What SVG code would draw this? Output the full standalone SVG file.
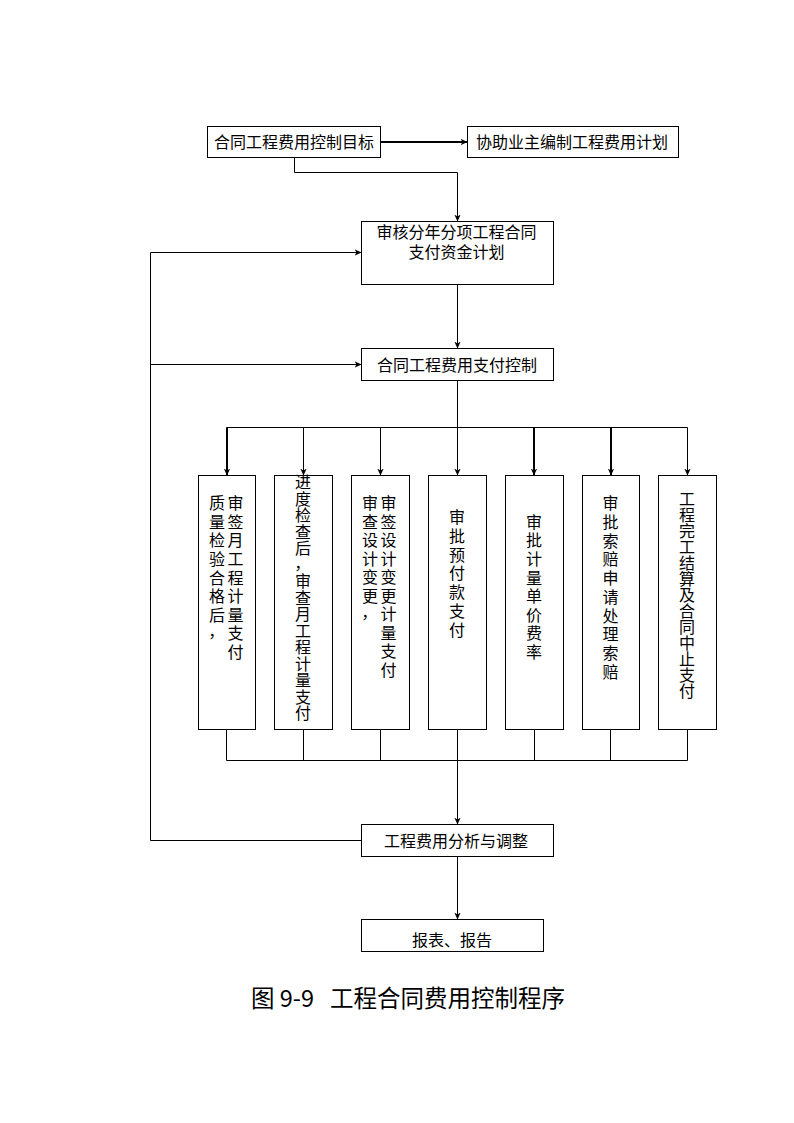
<svg xmlns="http://www.w3.org/2000/svg" width="794" height="1123" viewBox="0 0 794 1123">
<style>
.box{fill:#fff;stroke:#000;stroke-width:1}
.t{font-family:"Noto Sans CJK SC","Noto Sans CJK JP",sans-serif;font-size:16px;fill:#000;text-anchor:middle}
.v{font-family:"Noto Sans CJK SC","Noto Sans CJK JP",sans-serif;font-size:16px;fill:#000;writing-mode:vertical-rl;text-orientation:upright}
.cap{font-family:"Noto Sans CJK SC","Noto Sans CJK JP",sans-serif;font-size:23.5px;fill:#000}
.c{fill:none;stroke:#000;stroke-width:1}
.a{marker-end:url(#ah)}
.k{stroke-width:2}
</style>
<defs>
<marker id="ah" markerUnits="userSpaceOnUse" markerWidth="8" markerHeight="8" viewBox="0 0 8 8" refX="7" refY="4" orient="auto">
<path d="M0,0.8 L7,4 L0,7.2 L2,4 z" fill="#000"/>
</marker>
</defs>
<rect width="794" height="1123" fill="#fff"/>

<g id="connectors">
<path class="c a k" d="M380.5,142 H467.5"/>
<path class="c a" d="M294.5,157.5 V172.5 H457.5 V221.5"/>
<path class="c a" d="M457.5,284.5 V348.5"/>
<path class="c" d="M457.5,380.5 V427.5 M226.5,427.5 H687.5"/>
<path class="c a k" d="M227,427.5 V475.5"/>
<path class="c a" d="M303.5,427.5 V475.5"/>
<path class="c a" d="M380.5,427.5 V475.5"/>
<path class="c a" d="M457.5,427.5 V475.5"/>
<path class="c a k" d="M534,427.5 V475.5"/>
<path class="c a k" d="M611,427.5 V475.5"/>
<path class="c a" d="M687.5,427.5 V475.5"/>
<path class="c" d="M226.5,729.5 V760.5 H687.5 V729.5 M303.5,729.5 V760.5 M380.5,729.5 V760.5 M457.5,729.5 V760.5 M534.5,729.5 V760.5 M610.5,729.5 V760.5"/>
<path class="c a" d="M457.5,760.5 V824.5"/>
<path class="c a" d="M457.5,856.5 V919.5"/>
<path class="c a" d="M361.5,840.5 H150.5 V252.5 H361.5"/>
<path class="c a" d="M150.5,364.5 H361.5"/>
</g>

<g id="n1"><rect class="box" x="207.5" y="126.5" width="173" height="31"/><text class="t" x="294" y="148">合同工程费用控制目标</text></g>
<g id="n2"><rect class="box" x="467.5" y="126.5" width="211" height="31"/><text class="t" x="572" y="148">协助业主编制工程费用计划</text></g>
<g id="n3"><rect class="box" x="361.5" y="221.5" width="192" height="63"/><text class="t"><tspan x="456.5" y="238">审核分年分项工程合同</tspan><tspan x="456.5" y="257.5">支付资金计划</tspan></text></g>
<g id="n4"><rect class="box" x="361.5" y="348.5" width="192" height="32"/><text class="t" x="457" y="370.5">合同工程费用支付控制</text></g>

<g id="b1"><rect class="box" x="198.5" y="475.5" width="57" height="254"/>
<text class="v" x="217" y="495.3" letter-spacing="2.55">质量检验合格后<tspan dx="-9" dy="9">，</tspan></text>
<text class="v" x="235.5" y="495.3" letter-spacing="2.55">审签月工程计量支付</text>
</g>
<g id="b2"><rect class="box" x="274.5" y="475.5" width="58" height="254"/>
<text class="v" x="303" y="474" letter-spacing="0.5">进度检查后<tspan dx="-9" dy="9">，</tspan><tspan dx="9" dy="-9">审查月工程计量支付</tspan></text>
</g>
<g id="b3"><rect class="box" x="351.5" y="475.5" width="58" height="254"/>
<text class="v" x="370" y="495.3" letter-spacing="2.5">审查设计变更<tspan dx="-9" dy="9">，</tspan></text>
<text class="v" x="388.5" y="495.3" letter-spacing="2.5">审签设计变更计量支付</text>
</g>
<g id="b4"><rect class="box" x="428.5" y="475.5" width="58" height="254"/>
<text class="v" x="457" y="508.7" letter-spacing="2.9">审批预付款支付</text>
</g>
<g id="b5"><rect class="box" x="505.5" y="475.5" width="58" height="254"/>
<text class="v" x="534" y="513.7" letter-spacing="2.6">审批计量单价费率</text>
</g>
<g id="b6"><rect class="box" x="582.5" y="475.5" width="57" height="254"/>
<text class="v" x="610.5" y="495.3" letter-spacing="2.7">审批索赔申请处理索赔</text>
</g>
<g id="b7"><rect class="box" x="658.5" y="475.5" width="58" height="254"/>
<text class="v" x="687" y="491">工程完工结算及合同中止支付</text>
</g>

<g id="n5"><rect class="box" x="361.5" y="824.5" width="192" height="32"/><text class="t" x="456" y="847">工程费用分析与调整</text></g>
<g id="n6"><rect class="box" x="361.5" y="919.5" width="182" height="32"/><text class="t" x="452" y="946">报表、报告</text></g>

<text class="cap" y="1007"><tspan x="251">图 9-9</tspan><tspan x="330">工程合同费用控制程序</tspan></text>
</svg>
